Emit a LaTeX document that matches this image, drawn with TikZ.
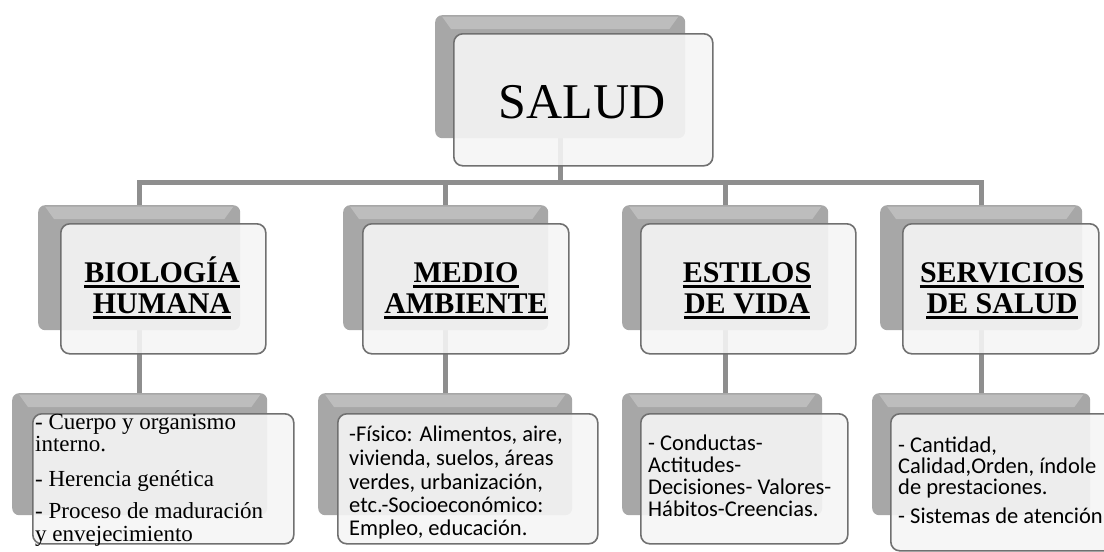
\documentclass[tikz,border=0pt]{standalone}
\usepackage{fontspec}
\setmainfont{Liberation Serif}
\newfontfamily\carl{Carlito}
\pgfdeclarelayer{back}
\pgfsetlayers{back,main}
\definecolor{linegray}{HTML}{8E8E8E}
\definecolor{shadowgray}{HTML}{A7A7A7}
\definecolor{bevelgray}{HTML}{BDBDBD}
\definecolor{boxfill}{HTML}{F5F5F5}
\definecolor{boxdraw}{HTML}{707070}
\tikzset{
  shadowbox/.style={rectangle, rounded corners=7pt, fill=shadowgray, draw=none, inner sep=0pt, anchor=north west},
  bevel/.style={fill=bevelgray},
  frontbox/.style={rectangle, rounded corners=9pt, fill=boxfill, fill opacity=0.9, draw=boxdraw, draw opacity=1, line width=1.6pt, inner sep=0pt, anchor=north west},
  conn/.style={draw=linegray, line width=5pt},
  headtxt/.style={inner sep=0pt, anchor=base, font=\fontsize{30}{31}\selectfont\bfseries},
  uline/.style={draw=black, line width=2.5pt},
  serif/.style={inner sep=0pt, anchor=base west, font=\fontsize{23}{25}\selectfont},
  sans/.style={inner sep=0pt, anchor=base west, font=\fontsize{22.5}{24}\selectfont\carl},
}
\newcommand{\ulnode}[1]{\draw[uline] ([yshift=-4.5pt]#1.base west) -- ([yshift=-4.5pt]#1.base east);}
\newcommand{\bevelon}[1]{\fill[bevel] ([xshift=7pt,yshift=-1.5pt]#1.north west) -- ([xshift=-7pt,yshift=-1.5pt]#1.north east) -- ([xshift=-16pt,yshift=-14pt]#1.north east) -- ([xshift=16pt,yshift=-14pt]#1.north west) -- cycle;}
\begin{document}
\begin{tikzpicture}[x=1pt,y=-1pt]
\useasboundingbox (0,0) rectangle (1104,552);
% top
\node[shadowbox, minimum width=250pt, minimum height=123pt] (sS) at (435,15) {};
\bevelon{sS}
\node[frontbox, minimum width=259pt, minimum height=132pt] (fS) at (453,33) {};
\node[inner sep=0pt, anchor=base, font=\fontsize{50}{52}\selectfont] (tS) at (582,118) {SALUD};
% level 2 shadows and fronts
\node[shadowbox, minimum width=202pt, minimum height=125pt] (sB) at (38,205) {};
\node[shadowbox, minimum width=205pt, minimum height=125pt] (sM) at (343,205) {};
\node[shadowbox, minimum width=206pt, minimum height=125pt] (sE) at (622,205) {};
\node[shadowbox, minimum width=202pt, minimum height=125pt] (sV) at (880,205) {};
\bevelon{sB}\bevelon{sM}\bevelon{sE}\bevelon{sV}
\node[frontbox, minimum width=205pt, minimum height=130pt] (fB) at (60,223) {};
\node[frontbox, minimum width=206pt, minimum height=130pt] (fM) at (362,223) {};
\node[frontbox, minimum width=215pt, minimum height=130pt] (fE) at (640,223) {};
\node[frontbox, minimum width=196pt, minimum height=130pt] (fV) at (902,223) {};
% level 2 texts
\node[headtxt] (hB1) at (162,282) {BIOLOGÍA};
\node[headtxt] (hB2) at (162,313) {HUMANA};
\node[headtxt] (hM1) at (466,282) {MEDIO};
\node[headtxt] (hM2) at (466,313) {AMBIENTE};
\node[headtxt] (hE1) at (747,282) {ESTILOS};
\node[headtxt] (hE2) at (747,313) {DE VIDA};
\node[headtxt] (hV1) at (1002,282) {SERVICIOS};
\node[headtxt] (hV2) at (1002,313) {DE SALUD};
\ulnode{hB1}\ulnode{hB2}\ulnode{hM1}\ulnode{hM2}
\ulnode{hE1}\ulnode{hE2}\ulnode{hV1}\ulnode{hV2}
% level 3 shadows and fronts
\node[shadowbox, minimum width=255pt, minimum height=122pt] (lB) at (12,393) {};
\node[shadowbox, minimum width=254pt, minimum height=122pt] (lM) at (318,393) {};
\node[shadowbox, minimum width=200pt, minimum height=122pt] (lE) at (622,393) {};
\node[shadowbox, minimum width=218pt, minimum height=122pt] (lV) at (872,393) {};
\bevelon{lB}\bevelon{lM}\bevelon{lE}\bevelon{lV}
\node[frontbox, minimum width=261pt, minimum height=130pt] (gB) at (32,413) {};
\node[frontbox, minimum width=260pt, minimum height=130pt] (gM) at (337,413) {};
\node[frontbox, minimum width=207pt, minimum height=130pt] (gE) at (640,413) {};
\node[frontbox, minimum width=230pt, minimum height=137pt] (gV) at (890,413) {};
% level 3 texts
\node[serif] (b1) at (35,429) {- Cuerpo y organismo};
\node[serif] (b2) at (35,451) {interno.};
\node[serif] (b3) at (35,486) {- Herencia genética};
\node[serif] (b4) at (35,518) {- Proceso de maduración};
\node[serif] (b5) at (35,541) {y envejecimiento};
\node[sans] (m1) at (349,441) {-Físico: Alimentos, aire,};
\node[sans] (m2) at (349,465) {vivienda, suelos, áreas};
\node[sans] (m3) at (349,489) {verdes, urbanización,};
\node[sans] (m4) at (349,512) {etc.-Socioeconómico:};
\node[sans] (m5) at (349,535) {Empleo, educación.};
\node[sans] (e1) at (648,450) {- Conductas-};
\node[sans] (e2) at (648,472) {Actitudes-};
\node[sans] (e3) at (648,494) {Decisiones- Valores-};
\node[sans] (e4) at (648,516) {Hábitos-Creencias.};
\node[sans] (v1) at (898,452) {- Cantidad,};
\node[sans] (v2) at (898,473) {Calidad,Orden, índole};
\node[sans] (v3) at (898,494) {de prestaciones.};
\node[sans] (v4) at (898,523) {- Sistemas de atención};
% connectors
\begin{pgfonlayer}{back}
\path (sS.south) ++(0,44) coordinate (hub);
\draw[conn] (sS.south) -- (hub);
\draw[conn] (hub) -| (sB.north);
\draw[conn] (hub) -| (sM.north);
\draw[conn] (hub) -| (sE.north);
\draw[conn] (hub) -| (sV.north);
\draw[conn] (sB.south) -- (sB.south |- lB.north);
\draw[conn] (sM.south) -- (sM.south |- lM.north);
\draw[conn] (sE.south) -- (sE.south |- lE.north);
\draw[conn] (sV.south) -- (sV.south |- lV.north);
\end{pgfonlayer}
\end{tikzpicture}
\end{document}
